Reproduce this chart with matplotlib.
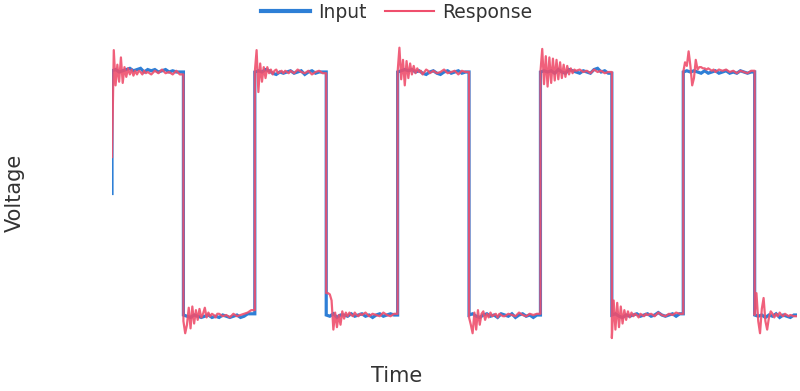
import matplotlib
matplotlib.use('Agg')
import matplotlib.pyplot as plt
from matplotlib.lines import Line2D

# square wave edges (time in half periods) and the level after each edge
edge_t = [0, 1, 2, 3, 4, 5, 6, 7, 8, 9]
level = [1, -1, 1, -1, 1, -1, 1, -1, 1, -1]
t_end = 9.59
input_start = 0.0

# input noise around the level, one value every 0.05 after each edge
input_dev = [
    [0.01, 0.02, 0.0, 0.01, 0.02, 0.03, 0.01, 0.02, 0.03, 0.0, 0.02, 0.01, 0.02, 0.0, 0.01, 0.02, 0.0, 0.01, 0.0, 0.0],
    [0.0, -0.01, -0.02, 0.0, -0.01, -0.02, -0.01, 0.0, -0.02, -0.01, -0.02, 0.0, -0.01, -0.02, -0.01, 0.0, -0.02, -0.01, 0.01, 0.01],
    [0.0, 0.01, 0.0, 0.02, 0.01, -0.01, -0.02, 0.0, -0.01, 0.0, 0.01, -0.01, 0.0, 0.01, -0.02, 0.0, 0.01, -0.01, 0.0, 0.0],
    [0.0, -0.01, 0.01, -0.02, 0.0, 0.0, -0.01, 0.01, -0.01, 0.0, 0.01, -0.01, 0.0, -0.02, 0.0, 0.01, -0.01, 0.0, 0.01, 0.0],
    [0.0, 0.01, 0.02, 0.01, 0.02, 0.0, 0.01, -0.01, -0.02, 0.0, 0.01, -0.01, -0.02, 0.0, 0.01, -0.01, 0.0, 0.01, -0.01, 0.0],
    [0.0, 0.01, -0.01, -0.02, 0.0, 0.01, -0.01, 0.0, -0.02, 0.01, 0.0, -0.01, 0.01, -0.02, 0.0, 0.01, -0.01, 0.0, -0.02, 0.0],
    [0.0, 0.01, 0.0, 0.01, -0.01, 0.02, 0.0, -0.01, 0.02, 0.01, 0.0, -0.01, 0.01, 0.0, -0.01, 0.02, 0.03, 0.0, 0.01, -0.01],
    [0.0, 0.01, -0.01, -0.02, 0.0, -0.01, 0.0, 0.01, -0.01, 0.0, 0.01, -0.01, 0.0, 0.02, 0.0, -0.01, 0.0, 0.01, -0.01, 0.01],
    [0.0, 0.01, 0.0, 0.01, 0.0, -0.01, 0.01, -0.01, 0.0, 0.01, -0.01, 0.0, 0.01, -0.01, 0.0, -0.01, 0.01, 0.0, -0.01, 0.0],
    [0.0, -0.01, 0.0, -0.02, 0.0, -0.01, 0.01, -0.02, 0.0, -0.01, -0.02, 0.0],
]

# response ringing after each edge, one value every 0.025 (first 0.5)
resp_ring = [
    [-0.7, 0.18, -0.11, 0.06, -0.08, 0.12, -0.09, 0.04, -0.04, 0.03, -0.02, 0.02, -0.03, 0.01, -0.02, 0.01, 0.0, -0.02, 0.01, -0.01],
    [-0.05, -0.15, -0.08, 0.06, -0.11, 0.07, -0.07, 0.04, -0.04, 0.05, -0.02, 0.01, 0.06, -0.02, 0.02, -0.01, 0.01, 0.0, -0.02, 0.01],
    [0.0, 0.18, -0.165, 0.07, -0.08, 0.04, -0.05, 0.04, -0.01, 0.02, -0.02, 0.01, 0.02, -0.01, 0.0, 0.01, -0.01, 0.01, 0.0, -0.01],
    [0.18, 0.18, 0.17, 0.12, -0.12, 0.02, -0.10, 0.0, -0.08, 0.03, -0.03, 0.02, -0.01, 0.02, 0.0, -0.01, 0.02, 0.0, -0.01, 0.01],
    [0.0, 0.20, -0.06, 0.10, -0.11, 0.09, -0.05, 0.07, -0.02, 0.05, -0.01, 0.03, 0.0, 0.01, -0.02, 0.0, 0.02, 0.01, -0.01, 0.0],
    [-0.02, -0.08, -0.15, 0.02, -0.12, 0.04, -0.08, 0.01, 0.03, -0.04, 0.01, -0.02, 0.02, -0.01, 0.0, 0.01, -0.02, 0.01, 0.0, -0.01],
    [0.0, 0.19, -0.10, 0.13, -0.12, 0.12, -0.09, 0.11, -0.07, 0.10, -0.06, 0.08, -0.05, 0.06, -0.04, 0.05, -0.02, 0.03, -0.01, 0.02],
    [-0.19, 0.12, -0.12, 0.10, -0.10, 0.07, -0.07, 0.04, -0.04, 0.03, -0.02, 0.02, -0.01, 0.01, 0.0, -0.02, 0.01, 0.0, -0.01, 0.01],
    [0.0, 0.08, 0.05, 0.17, 0.05, -0.11, -0.05, 0.10, 0.02, 0.04, 0.04, 0.03, 0.03, 0.02, 0.03, 0.02, 0.01, 0.02, 0.0, 0.01],
    [0.0, 0.18, -0.05, -0.15, 0.05, 0.14, -0.05, -0.12, -0.02, 0.03, 0.01, -0.02, 0.01, -0.01, 0.02, 0.0, -0.01, 0.01, 0.0, -0.01],
]

# response noise for the rest of each half period, one value every 0.05
resp_tail = [
    [0.0, -0.02, 0.01, -0.01, 0.02, -0.01, 0.0, -0.02, 0.01, -0.02],
    [0.01, -0.01, 0.0, -0.02, 0.01, -0.01, 0.0, 0.01, 0.02, 0.04],
    [0.01, -0.01, 0.02, 0.0, -0.01, 0.01, -0.02, 0.0, 0.01, -0.01],
    [0.0, 0.02, -0.01, 0.01, 0.0, -0.01, 0.02, 0.0, -0.01, 0.01],
    [0.01, -0.01, 0.0, 0.02, -0.01, 0.0, 0.01, -0.02, 0.01, 0.0],
    [-0.01, 0.01, 0.0, -0.01, 0.02, 0.0, -0.01, 0.01, 0.0, 0.01],
    [0.01, 0.02, 0.0, 0.01, -0.01, 0.02, 0.0, 0.01, -0.01, 0.0],
    [0.0, 0.01, -0.01, 0.02, 0.0, -0.01, 0.01, 0.0, 0.02, 0.01],
    [0.02, 0.01, 0.02, 0.0, 0.01, -0.01, 0.01, 0.0, -0.01, 0.01],
    [0.0, -0.01],
]

BLUE = '#2e7fd6'
RED = '#ef4f6d'
TXT = '#333333'

# build the input trace
t_in, v_in = [0.0], [input_start]
for k, (t0, lv) in enumerate(zip(edge_t, level)):
    for i, d in enumerate(input_dev[k]):
        t_in.append(t0 + 0.05 * i)
        v_in.append(lv + d)
    t_stop = edge_t[k + 1] if k + 1 < len(edge_t) else t_end
    t_in.append(t_stop)
    v_in.append(v_in[-1])

# build the response trace
t_re, v_re = [], []
for k, (t0, lv) in enumerate(zip(edge_t, level)):
    for i, d in enumerate(resp_ring[k]):
        t_re.append(t0 + 0.025 * i)
        v_re.append(lv + d)
    for i, d in enumerate(resp_tail[k]):
        t_re.append(t0 + 0.5 + 0.05 * i)
        v_re.append(lv + d)
    t_stop = edge_t[k + 1] if k + 1 < len(edge_t) else t_end
    t_re.append(t_stop)
    v_re.append(v_re[-1])

fig = plt.figure(figsize=(8, 3.91), dpi=100)
ax = fig.add_axes([0.14, 0.1176, 0.856, 0.780])
ax.plot(t_in, v_in, color=BLUE, lw=2.3, solid_joinstyle='miter')
ax.plot(t_re, v_re, color=RED, lw=1.6, alpha=0.9)
ax.set_xlim(0, t_end)
ax.set_ylim(-1.247, 1.263)
ax.set_xticks([])
ax.set_yticks([])
for s in ax.spines.values():
    s.set_visible(False)

fig.text(15 / 800, 1 - 193 / 391, 'Voltage', rotation=90, ha='center', va='center',
         fontsize=15, color=TXT)
fig.text(397 / 800, 1 - 376 / 391, 'Time', ha='center', va='center',
         fontsize=15, color=TXT)

handles = [Line2D([], [], color=BLUE, lw=3),
           Line2D([], [], color=RED, lw=1.5)]
fig.legend(handles, ['Input', 'Response'], loc='center', bbox_to_anchor=(0.496, 0.969),
           ncol=2, frameon=False, fontsize=13.5, handlelength=2.6, handletextpad=0.45,
           columnspacing=1.0, labelcolor=TXT, borderaxespad=0, borderpad=0)

fig.savefig('out.png', dpi=100)
